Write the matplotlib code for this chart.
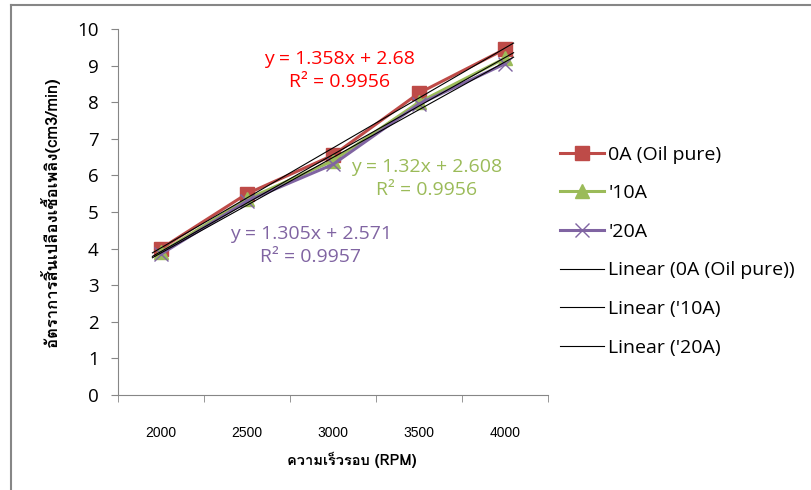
import numpy as np
import matplotlib
matplotlib.use("Agg")
import matplotlib.pyplot as plt
from matplotlib import font_manager
from matplotlib.ft2font import FT2Font
from matplotlib.lines import Line2D

rpm = ["2000", "2500", "3000", "3500", "4000"]
oil_pure = [4.0, 5.5, 6.55, 8.25, 9.45]
a10 = [3.9, 5.35, 6.4, 8.0, 9.2]
a20 = [3.85, 5.3, 6.3, 7.95, 9.05]
labels = ["0A (Oil pure)", "'10A", "'20A"]
eq_texts = ["y = 1.358x + 2.68\nR² = 0.9956",
            "y = 1.32x + 2.608\nR² = 0.9956",
            "y = 1.305x + 2.571\nR² = 0.9957"]


def thai_font():
    # หาฟอนต์ที่มีอักษรไทย
    found = []
    for f in font_manager.fontManager.ttflist:
        try:
            if 0x0E04 in FT2Font(f.fname).get_charmap():
                found.append(f.name)
        except Exception:
            pass
    return found


thai = thai_font()
plt.rcParams["font.family"] = ["Open Sans", "DejaVu Sans"]
thai_family = thai[:1] + ["DejaVu Sans"]

fig = plt.figure(figsize=(8.11, 4.9), dpi=100)
ax = fig.add_axes([118 / 811, 1 - 395 / 490, 430 / 811, 366 / 490])

x = np.arange(len(rpm))
colors = ["#BE4B48", "#9BBB59", "#8064A2"]
markers = ["s", "^", "x"]
msizes = [10, 10, 10]
series = [oil_pure, a10, a20]
for ys, c, m, ms, lab in zip(series, colors, markers, msizes, labels):
    ax.plot(x, ys, color=c, lw=2.2, marker=m, ms=ms, mfc=c, mec=c,
            mew=1.0, label=lab, zorder=3)

# เส้นแนวโน้ม
for ys in series:
    k, b = np.polyfit(x + 1, ys, 1)
    ax.plot([x[0] - 0.1, x[-1] + 0.1], [k * (x[0] + 0.9) + b, k * (x[-1] + 1.1) + b],
            color="black", lw=0.8, zorder=4)

eq_kw = dict(ha="center", va="center", fontsize=14, linespacing=1.4)
ax.text(2.08, 8.87, eq_texts[0], color="#FF0000", **eq_kw)
ax.text(3.09, 5.91, eq_texts[1], color="#9BBB59", **eq_kw)
ax.text(1.74, 4.09, eq_texts[2], color="#8064A2", **eq_kw)

ax.set_xlim(-0.5, 4.5)
ax.set_ylim(0, 10)
ax.set_yticks(range(0, 11))
ax.set_xticks(x)
ax.set_xticklabels(rpm, fontsize=10, family=["Liberation Sans"])
ax.set_xticks(np.arange(-0.5, 4.6, 1), minor=True)
ax.tick_params(axis="x", which="major", length=0, pad=22)
ax.tick_params(axis="x", which="minor", length=5, color="#868686", direction="out")
ax.tick_params(axis="y", length=5, color="#868686", labelsize=13.5, pad=9)
for s in ["top", "right"]:
    ax.spines[s].set_visible(False)
for s in ["left", "bottom"]:
    ax.spines[s].set_color("#868686")

ax.set_ylabel("อัตราการสิ้นเปลืองเชื้อเพลิง(cm3/min)", fontsize=12, fontweight="bold", family=thai_family)
ax.yaxis.set_label_coords(-0.135, 0.5)
ax.set_xlabel("ความเร็วรอบ (RPM)", fontsize=10.5, fontweight="bold", family=thai_family)
ax.xaxis.set_label_coords(0.544, -0.156)

handles, _ = ax.get_legend_handles_labels()
handles += [Line2D([], [], color="black", lw=0.8) for _ in range(3)]
leg_labels = labels + ["Linear (" + l + ")" for l in labels]
fig.legend(handles, leg_labels, loc="upper left", bbox_to_anchor=(546 / 811, 1 - 132 / 490),
           frameon=False, fontsize=14, handlelength=2.3, handletextpad=0.2, labelspacing=1.06,
           borderpad=0.2)

# กรอบรอบแผนภูมิ
fig.add_artist(Line2D([11 / 811, 11 / 811], [0, 1 - 5 / 490], color="#868686", lw=1.5))
fig.add_artist(Line2D([11 / 811, 1], [1 - 5 / 490, 1 - 5 / 490], color="#868686", lw=1.5))

fig.savefig("out.png", dpi=100)
